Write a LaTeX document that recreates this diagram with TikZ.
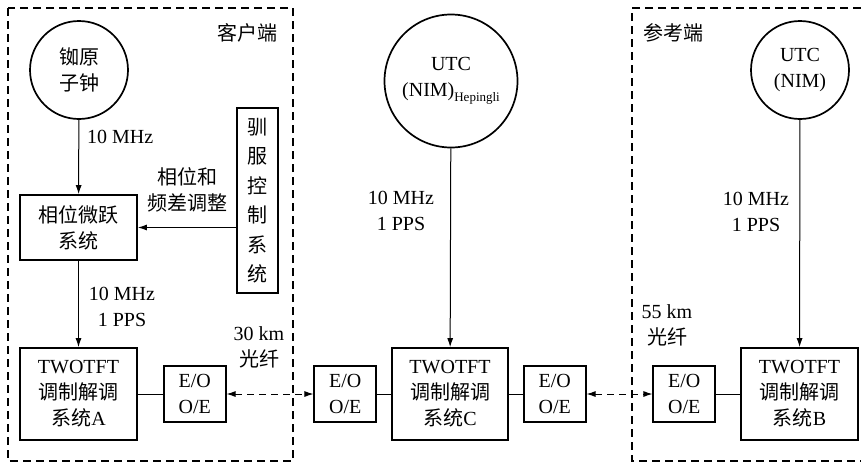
\documentclass[tikz,border=0pt]{standalone}
\usepackage{fontspec}
\setmainfont{Liberation Serif}
\newfontfamily\cjk{Noto Sans CJK SC}
\usepackage{tikz}
\usetikzlibrary{arrows.meta, positioning}

\newcommand{\zh}[1]{{\cjk #1}}

\begin{document}
\begin{tikzpicture}[
  x=1pt, y=-1pt,
  every node/.style={font=\fontsize{20}{26}\selectfont},
  box/.style={draw, line width=1.7pt, inner sep=0pt, align=center},
  clk/.style={draw, circle, line width=1.7pt, inner sep=0pt, align=center},
  eo/.style={box, minimum width=62pt, minimum height=56pt},
  modem/.style={box, minimum width=117pt, minimum height=92pt},
  lbl/.style={inner sep=0pt, align=center},
  arr/.style={-{Latex[length=9pt, width=6pt]}, line width=1pt},
  link/.style={line width=1pt},
  fiber/.style={{Latex[length=9pt, width=6pt]}-{Latex[length=9pt, width=6pt]},
                line width=1pt, dash pattern=on 7pt off 5pt},
  site/.style={line width=1.3pt, dash pattern=on 8pt off 5pt}
]
  \useasboundingbox (0,0) rectangle (861,464);

  % client and reference sites
  \draw[site] (8,8) rectangle (293,461);
  \draw[site] (861,8) -- (632,8) -- (632,461) -- (861,461);
  \node[lbl] (client) at (247,33) {\zh{客户端}};
  \node[lbl] (ref) at (673,33) {\zh{参考端}};

  % clocks
  \node[clk, minimum size=98pt] (rb) at (79,70) {\zh{铷原}\\\zh{子钟}};
  \node[clk, minimum size=133pt] (utcC) at (451,81)
    {UTC\\(NIM)\raisebox{-5pt}{\fontsize{13}{15}\selectfont Hepingli}};
  \node[clk, minimum size=98pt] (utcB) at (800,70) {UTC\\(NIM)};

  % client side
  \node[box, minimum width=117pt, minimum height=65pt] (jump) at (78.5,227.5)
    {\zh{相位微跃}\\\zh{系统}};
  \node[box, minimum width=41pt, minimum height=185pt,
        font=\fontsize{20}{29.5}\selectfont] (tame) at (257.5,200.5)
    {\zh{驯}\\\zh{服}\\\zh{控}\\\zh{制}\\\zh{系}\\\zh{统}};
  \node[modem] (modA) at (78.5,394) {TWOTFT\\\zh{调制解调}\\\zh{系统}A};
  \node[eo, right=25pt of modA] (eoA) {E/O\\O/E};

  % middle station
  \node[modem, minimum width=116pt] (modC) at (450,394) {TWOTFT\\\zh{调制解调}\\\zh{系统}C};
  \node[eo, left=14pt of modC] (eoC1) {E/O\\O/E};
  \node[eo, right=14pt of modC] (eoC2) {E/O\\O/E};

  % reference side
  \node[modem] (modB) at (799.5,394) {TWOTFT\\\zh{调制解调}\\\zh{系统}B};
  \node[eo, left=24pt of modB] (eoB) {E/O\\O/E};

  % signal labels
  \node[lbl, anchor=west] (f1) at (87,137) {10 MHz};
  \node[lbl] (adj) at (187,190) {\zh{相位和}\\\zh{频差调整}};
  \node[lbl] (f2) at (122,307) {10 MHz\\1 PPS};
  \node[lbl] (f3) at (401,211) {10 MHz\\1 PPS};
  \node[lbl] (f4) at (756,212) {10 MHz\\1 PPS};
  \node[lbl] (km30) at (259,347) {30 km\\\zh{光纤}};
  \node[lbl] (km55) at (667,325) {55 km\\\zh{光纤}};

  \draw[arr] (rb) -- (jump);
  \draw[arr] (tame.west |- jump) -- (jump);
  \draw[arr] (jump) -- (modA);
  \draw[arr] (utcC) -- (modC);
  \draw[arr] (utcB) -- (modB);
  \draw[link] (modA) -- (eoA);
  \draw[link] (eoC1) -- (modC);
  \draw[link] (modC) -- (eoC2);
  \draw[link] (eoB) -- (modB);
  \draw[fiber] (eoA) -- (eoC1);
  \draw[fiber] (eoC2) -- (eoB);
\end{tikzpicture}
\end{document}
